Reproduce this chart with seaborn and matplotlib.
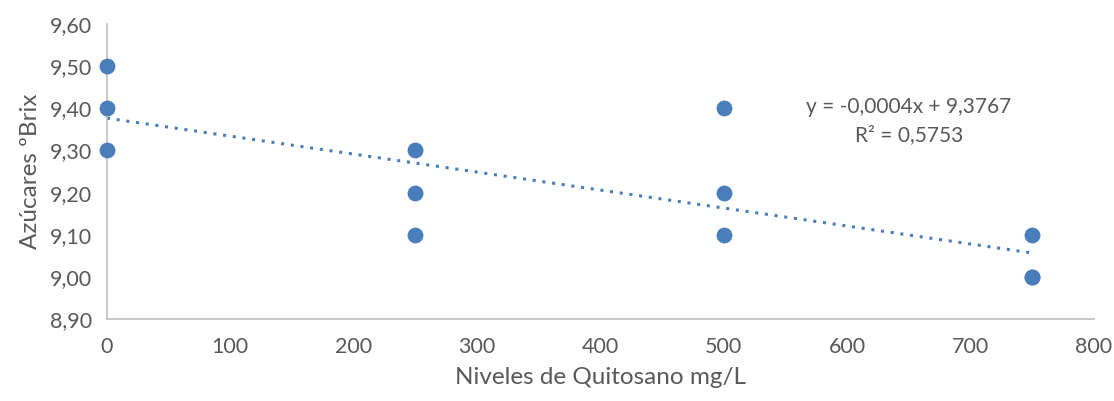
import matplotlib
matplotlib.use("Agg")
import matplotlib.pyplot as plt
import seaborn as sns
import numpy as np
import pandas as pd
from matplotlib.ticker import FuncFormatter, MultipleLocator

# datos
niveles = [0, 0, 0, 250, 250, 250, 500, 500, 500, 750, 750, 750]
brix = [9.5, 9.4, 9.3, 9.3, 9.2, 9.1, 9.4, 9.2, 9.1, 9.1, 9.0, 9.0]
eq_text = "y = -0,0004x + 9,3767"
r2_text = "R² = 0,5753"

df = pd.DataFrame({"niveles": niveles, "brix": brix})

sns.set_style("white")
plt.rcParams['font.family'] = ['Lato', 'DejaVu Sans']

azul = "#4a7ebb"
gris = "#595959"
eje = "#bfbfbf"

fig = plt.figure(figsize=(11.14, 4.01), dpi=100)
ax = fig.add_axes([0.096, 0.2045, 0.886, 0.7355])

# linea de tendencia
m, b = np.polyfit(df["niveles"], df["brix"], 1)
xs = np.array([df["niveles"].min(), df["niveles"].max()])
ax.plot(xs, m * xs + b, color=azul, linestyle=(0, (1, 2.2)), linewidth=2.2, zorder=2)

sns.scatterplot(data=df, x="niveles", y="brix", ax=ax, color=azul, s=130,
                edgecolor=azul, linewidth=0, zorder=3, clip_on=False)

ax.set_xlim(0, 800)
ax.set_ylim(8.9, 9.6)
ax.xaxis.set_major_locator(MultipleLocator(100))
ax.yaxis.set_major_locator(MultipleLocator(0.1))
ax.yaxis.set_major_formatter(FuncFormatter(lambda v, p: f"{v:.2f}".replace(".", ",")))

for s in ["top", "right"]:
    ax.spines[s].set_visible(False)
for s in ["left", "bottom"]:
    ax.spines[s].set_color(eje)
    ax.spines[s].set_linewidth(1.2)
ax.tick_params(axis="both", direction="out", length=6, width=1.2, color=eje,
               labelcolor=gris, labelsize=15.5, pad=5)
ax.tick_params(axis="x", pad=7)

ax.set_xlabel("Niveles de Quitosano mg/L", color=gris, fontsize=17.5, labelpad=7)
ax.set_ylabel("Azúcares ºBrix", color=gris, fontsize=17.5, labelpad=6)

ax.text(650, 9.403, eq_text, ha="center", va="center", color=gris, fontsize=15)
ax.text(650, 9.336, r2_text, ha="center", va="center", color=gris, fontsize=15)

fig.savefig("out.png", dpi=100)
